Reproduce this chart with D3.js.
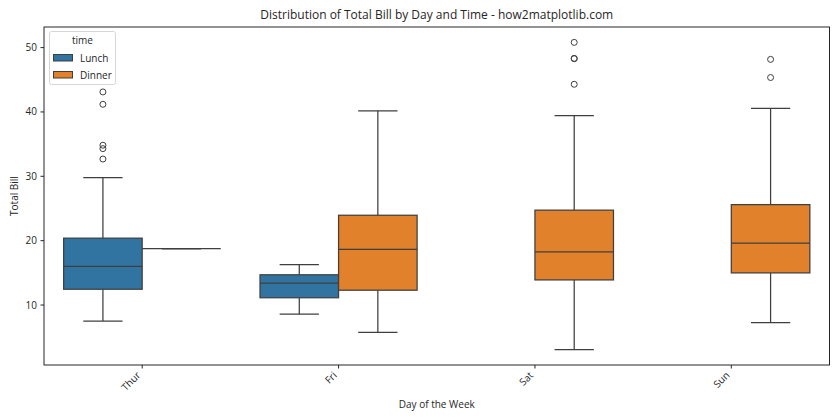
<!DOCTYPE html>
<html><head><meta charset="utf-8">
<script src="https://cdn.jsdelivr.net/npm/d3@7"></script>
<style>body{margin:0;background:#fff}svg{font-family:"Segoe UI","Open Sans","Noto Sans",sans-serif}</style>
</head><body><svg id="c" width="840" height="420"></svg>
<script>
const days = ["Thur","Fri","Sat","Sun"];
const times = ["Lunch","Dinner"];
const colors = ["#3274a1","#e1812c"];
const yTicks = [10,20,30,40,50];
// Lunch series (null = no data)
const lunchLow  = [7.51, 8.58, null, null];
const lunchQ1   = [12.45, 11.13, null, null];
const lunchMed  = [16.0, 13.42, null, null];
const lunchQ3   = [20.39, 14.7, null, null];
const lunchHigh = [29.8, 16.27, null, null];
const lunchOut  = [[32.68, 34.3, 34.83, 41.19, 43.11], [], [], []];
// Dinner series
const dinnerLow  = [18.78, 5.75, 3.07, 7.25];
const dinnerQ1   = [18.78, 12.3, 13.9, 14.99];
const dinnerMed  = [18.78, 18.66, 18.24, 19.63];
const dinnerQ3   = [18.78, 23.95, 24.74, 25.6];
const dinnerHigh = [18.78, 40.17, 39.42, 40.55];
const dinnerOut  = [[], [], [44.3, 48.27, 48.33, 50.81], [45.35, 48.17]];

const series = [
  {time:"Lunch", low:lunchLow, q1:lunchQ1, med:lunchMed, q3:lunchQ3, high:lunchHigh, out:lunchOut},
  {time:"Dinner", low:dinnerLow, q1:dinnerQ1, med:dinnerMed, q3:dinnerQ3, high:dinnerHigh, out:dinnerOut}
];

const svg = d3.select("#c");
const L = 44, R = 829.5, T = 27, B = 365;
const edge = "#3f3f3f";
const x = d3.scaleLinear().domain([-0.5, 3.5]).range([L, R]);
const y = d3.scaleLinear().domain([0.68, 53.2]).range([B, T]);
const bw = 0.4;
const offs = [-0.2, 0.2];

const g = svg.append("g");
series.forEach((s, si) => {
  days.forEach((d, di) => {
    if (s.med[di] == null) return;
    const c = di + offs[si];
    const x0 = x(c - bw/2), x1 = x(c + bw/2), xc = x(c);
    const cap0 = x(c - bw/4), cap1 = x(c + bw/4);
    const ln = (a,b,c2,d2) => g.append("line").attr("x1",a).attr("y1",b).attr("x2",c2).attr("y2",d2)
      .attr("stroke",edge).attr("stroke-width",1.25);
    ln(xc, y(s.q3[di]), xc, y(s.high[di]));
    ln(xc, y(s.q1[di]), xc, y(s.low[di]));
    ln(cap0, y(s.high[di]), cap1, y(s.high[di]));
    ln(cap0, y(s.low[di]), cap1, y(s.low[di]));
    const h = y(s.q1[di]) - y(s.q3[di]);
    if (h > 0) {
      g.append("rect").attr("x", x0).attr("y", y(s.q3[di])).attr("width", x1 - x0)
        .attr("height", h).attr("fill", colors[si]).attr("stroke", edge).attr("stroke-width", 1.25);
    }
    ln(x0, y(s.med[di]), x1, y(s.med[di]));
    s.out[di].forEach(v => {
      g.append("circle").attr("cx", xc).attr("cy", y(v)).attr("r", 3)
        .attr("fill","none").attr("stroke", edge).attr("stroke-width", 1);
    });
  });
});

// frame
svg.append("rect").attr("x", L).attr("y", T).attr("width", R - L).attr("height", B - T)
  .attr("fill","none").attr("stroke","#262626").attr("stroke-width",1);

// y axis
const ya = svg.append("g");
yTicks.forEach(t => {
  ya.append("line").attr("x1", L-3.5).attr("x2", L).attr("y1", y(t)).attr("y2", y(t)).attr("stroke","#262626");
  ya.append("text").attr("x", L-7).attr("y", y(t)).attr("dy","0.35em").attr("text-anchor","end")
    .attr("font-size",10).attr("fill","#262626").text(t);
});
// x axis
days.forEach((d, i) => {
  svg.append("line").attr("x1", x(i)).attr("x2", x(i)).attr("y1", B).attr("y2", B+3.5).attr("stroke","#262626");
  svg.append("text").attr("transform", `translate(${x(i)-6},${B+6}) rotate(-45)`)
    .attr("text-anchor","end").attr("dy","0.7em").attr("font-size",10).attr("fill","#262626").text(d);
});

svg.append("text").attr("x", (L+R)/2).attr("y", 408).attr("text-anchor","middle")
  .attr("font-size",10).attr("fill","#262626").text("Day of the Week");
svg.append("text").attr("transform", `translate(18,${(T+B)/2}) rotate(-90)`).attr("text-anchor","middle")
  .attr("font-size",10).attr("fill","#262626").text("Total Bill");
svg.append("text").attr("x", (L+R)/2).attr("y", 19).attr("text-anchor","middle")
  .attr("font-size",12).attr("fill","#262626").text("Distribution of Total Bill by Day and Time - how2matplotlib.com");

// legend
const lg = svg.append("g");
lg.append("rect").attr("x", 49.5).attr("y", 31.5).attr("width", 66).attr("height", 53).attr("rx", 2)
  .attr("fill","#fff").attr("fill-opacity",0.8).attr("stroke","#d6d6d6");
lg.append("text").attr("x", 82.5).attr("y", 44).attr("text-anchor","middle").attr("font-size",10).attr("fill","#262626").text("time");
times.forEach((t, i) => {
  const yy = 54.5 + i*17;
  lg.append("rect").attr("x", 53.5).attr("y", yy).attr("width", 19).attr("height", 6.5)
    .attr("fill", colors[i]).attr("stroke", edge).attr("stroke-width", 1);
  lg.append("text").attr("x", 80).attr("y", yy+3.5).attr("dy","0.35em").attr("font-size",10).attr("fill","#262626").text(t);
});
</script></body></html>
